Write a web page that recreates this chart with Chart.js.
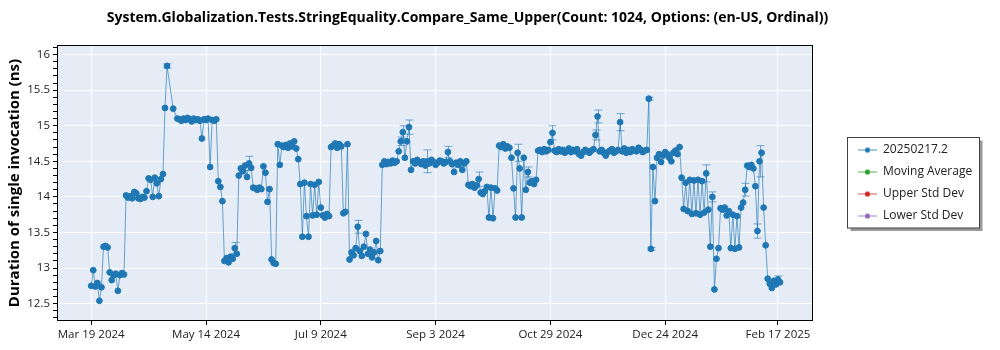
<!DOCTYPE html>
<html>
<head>
<meta charset="utf-8">
<script src="https://cdn.jsdelivr.net/npm/chart.js@4.4.1/dist/chart.umd.min.js"></script>
<style>
  html, body { margin: 0; padding: 0; background: #fff; }
</style>
</head>
<body>
<canvas id="benchmark-chart" width="1000" height="350"></canvas>
<script>

var chartTitle = 'System.Globalization.Tests.StringEquality.Compare_Same_Upper(Count: 1024, Options: (en-US, Ordinal))';
var axisTitle = 'Duration of single invocation (ns)';

var seriesNames = ['20250217.2', 'Moving Average', 'Upper Std Dev', 'Lower Std Dev'];
var seriesColours = ['#1f77b4', '#2ca02c', '#d62728', '#9467bd'];

// one run per day, starting on this date (null = no run that day)
var startDate = '2024-03-19';
var runValues = [
	12.75, 12.97, 12.74, 12.79, 12.54, 12.73, 13.30, 13.31, 13.29, 12.94,
	12.83, 12.90, 12.92, 12.68, 12.90, 12.93, 12.91, 14.02, 13.99, 14.01,
	13.98, 14.07, 14.05, 13.98, 13.97, 14.00, 13.99, 14.08, 14.26, 14.24,
	14.00, 14.27, 14.19, 14.01, 14.25, 14.32, 15.25, 15.84, null, null,
	15.24, null, 15.10, 15.09, 15.07, 15.10, 15.08, 15.11, 15.09, 15.06,
	15.10, 15.08, 15.09, 15.07, 14.82, 15.09, 15.08, 15.10, 14.42, 15.08,
	15.07, 15.09, 14.22, 14.14, 13.94, 13.10, 13.14, 13.08, 13.16, 13.13,
	13.28, 13.20, 14.30, 14.40, 14.36, 14.44, 14.28, 14.47, 14.41, 14.13,
	14.12, 14.10, 14.13, 14.11, 14.43, 14.34, 13.93, 14.11, 13.12, 13.07,
	13.06, 14.74, 14.45, 14.72, 14.70, 14.73, 14.69, 14.75, 14.71, 14.78,
	14.68, 14.53, 14.18, 13.44, 14.20, 13.73, 13.44, 14.18, 13.74, 14.17,
	13.75, 14.21, 13.85, 13.74, 13.71, 13.76, 13.73, 14.70, 14.72, 14.75,
	14.69, 14.74, 14.71, 13.77, 13.79, 14.74, 13.12, 13.22, 13.18, 13.28,
	13.58, 13.24, 13.17, 13.30, 13.48, 13.20, 13.26, 13.15, 13.22, 13.38,
	13.11, 13.24, 14.45, 14.50, 14.46, 14.49, 14.47, 14.51, 14.48, 14.50,
	14.64, 14.78, 14.91, 14.55, 14.78, 14.98, 14.38, 14.50, 14.47, 14.52,
	14.49, 14.46, 14.50, 14.44, 14.50, 14.47, 14.52, 14.49, 14.45, 14.48,
	14.51, 14.50, 14.47, 14.49, 14.63, 14.50, 14.46, 14.35, 14.48, 14.45,
	14.50, 14.38, 14.47, 14.50, 14.17, 14.15, 14.18, 14.13, 14.16, 14.25,
	14.06, 14.04, 14.08, 14.14, 13.71, 14.13, 13.70, 14.12, 14.09, 14.72,
	14.70, 14.74, 14.68, 14.71, 14.69, 14.55, 14.12, 13.71, 14.62, 14.40,
	13.71, 14.55, 14.10, 14.35, 14.20, 14.22, 14.18, 14.24, 14.65, 14.66,
	14.63, 14.67, 14.64, 14.66, 14.77, 14.90, 14.65, 14.63, 14.67, 14.64,
	14.66, 14.62, 14.65, 14.68, 14.63, 14.66, 14.64, 14.67, 14.60, 14.58,
	14.63, 14.66, 14.64, 14.62, 14.65, 14.67, 14.87, 15.13, 14.64, 14.66,
	14.62, 14.58, 14.63, 14.65, 14.67, 14.62, 14.64, 14.66, 15.05, 14.64,
	14.68, 14.62, 14.66, 14.63, 14.67, 14.65, 14.64, 14.69, 14.66, 14.63,
	14.65, 14.66, 15.38, 13.27, 14.42, 13.94, 14.55, 14.60, 14.49, 14.58,
	14.63, 14.60, 14.55, 14.50, 14.62, 14.65, 14.60, 14.70, 14.27, 13.83,
	14.20, 13.80, 14.24, 13.76, 14.23, 13.77, 14.24, 13.75, 14.22, 13.78,
	14.33, 13.82, 13.30, 14.00, 12.70, 13.13, 13.28, 13.84, 13.82, 13.85,
	13.74, 13.80, 13.28, 13.75, 13.27, 13.73, 13.29, 13.85, 13.92, 14.10,
	14.44, 14.42, 14.45, 14.40, 14.15, 13.52, 14.50, 14.62, 13.85, 13.32,
	12.85, 12.78, 12.72, 12.82, 12.77, 12.84, 12.80
];

// runs that show a visible std dev bar (index into runValues) and its half size
var errorDays  = [37, 70, 77, 130, 151, 152, 155, 164, 174, 189, 208, 213, 225, 246, 247, 258, 272, 273, 300, 303, 319, 325, 326, 335];
var errorSizes = [0.03, 0.08, 0.10, 0.09, 0.06, 0.09, 0.10, 0.16, 0.08, 0.10, 0.12, 0.07, 0.10, 0.07, 0.09, 0.12, 0.02, 0.02, 0.12, 0.07, 0.09, 0.10, 0.22, 0.05];

var tickDates  = ['2024-03-19', '2024-05-14', '2024-07-09', '2024-09-03', '2024-10-29', '2024-12-24', '2025-02-17'];
var tickLabels = ['Mar 19 2024', 'May 14 2024', 'Jul 9 2024', 'Sep 3 2024', 'Oct 29 2024', 'Dec 24 2024', 'Feb 17 2025'];

var FONT = '"Open Sans", "Noto Sans", sans-serif';
var DAY = 86400000;
Chart.defaults.font.family = FONT;

function dayOf(s) {
	return (Date.parse(s) - Date.parse(startDate)) / DAY;
}

function isMajor(v) {
	return Math.abs(v * 2 - Math.round(v * 2)) < 1e-6;
}

function legendSymbol(colour) {
	var c = document.createElement('canvas');
	c.width = 19;
	c.height = 7;
	var g = c.getContext('2d');
	g.strokeStyle = colour;
	g.globalAlpha = 0.8;
	g.lineWidth = 1;
	g.beginPath();
	g.moveTo(0, 3.5);
	g.lineTo(19, 3.5);
	g.stroke();
	g.globalAlpha = 1;
	g.fillStyle = colour;
	g.beginPath();
	g.arc(9.5, 3.5, 2.6, 0, Math.PI * 2);
	g.fill();
	return c;
}

// background, legend box, frame, error bars and the title
var decorations = {
	id: 'decorations',
	beforeLayout: function(chart) {
		var lg = chart.legend;
		if (lg && !lg._fixedWidth) {
			var fit = lg.fit;
			lg.fit = function() { fit.call(this); this.width = 152; };
			lg._fixedWidth = true;
		}
	},
	beforeDraw: function(chart) {
		var ctx = chart.ctx, a = chart.chartArea, lg = chart.legend;
		ctx.save();
		ctx.fillStyle = '#e5ecf6';
		ctx.fillRect(a.left, a.top, a.right - a.left, a.bottom - a.top);

		var boxes = lg.legendHitBoxes;
		var fx = Math.round(lg.left) - 0.5;
		var fy = Math.round(boxes[0].top - 7) + 0.5;
		var fw = 132;
		var fh = Math.round(boxes[boxes.length - 1].top + boxes[boxes.length - 1].height + 6) - fy;
		ctx.fillStyle = '#9a9a9a';
		ctx.fillRect(fx + 3, fy + 3, fw, fh);
		ctx.fillStyle = '#ffffff';
		ctx.fillRect(fx, fy, fw, fh);
		ctx.strokeStyle = '#404040';
		ctx.lineWidth = 1;
		ctx.strokeRect(fx, fy, fw, fh);
		ctx.restore();
	},
	beforeDatasetsDraw: function(chart) {
		var ctx = chart.ctx, x = chart.scales.x, y = chart.scales.y;
		ctx.save();
		ctx.strokeStyle = 'rgba(31,119,180,0.6)';
		ctx.lineWidth = 1;
		errorDays.forEach(function(d, i) {
			var v = runValues[d];
			if (v === null) return;
			var px = Math.round(x.getPixelForValue(d)) + 0.5;
			var top = y.getPixelForValue(v + errorSizes[i]);
			var bot = y.getPixelForValue(v - errorSizes[i]);
			ctx.beginPath();
			ctx.moveTo(px, top);
			ctx.lineTo(px, bot);
			ctx.moveTo(px - 4, top);
			ctx.lineTo(px + 4, top);
			ctx.moveTo(px - 4, bot);
			ctx.lineTo(px + 4, bot);
			ctx.stroke();
		});
		ctx.restore();
	},
	afterDraw: function(chart) {
		var ctx = chart.ctx, a = chart.chartArea;
		ctx.save();
		ctx.strokeStyle = '#000';
		ctx.lineWidth = 1;
		ctx.strokeRect(Math.round(a.left) - 0.5, Math.round(a.top) - 0.5, Math.round(a.right - a.left) + 1, Math.round(a.bottom - a.top) + 1);
		ctx.fillStyle = '#000';
		ctx.font = 'bold 14px ' + FONT;
		ctx.textAlign = 'center';
		ctx.textBaseline = 'middle';
		ctx.fillText(chartTitle, 467.5, 18);
		ctx.restore();
	}
};

var datasets = [];
seriesNames.forEach(function(name, i) {
	var colour = seriesColours[i];
	datasets.push({
		label: name,
		data: i === 0 ? runValues.map(function(v, d) { return {x: d, y: v}; }) : [],
		borderColor: i === 0 ? 'rgba(31,119,180,0.65)' : colour,
		backgroundColor: colour,
		borderWidth: 1,
		pointRadius: 2.9,
		pointBorderWidth: 1,
		pointBackgroundColor: colour,
		pointBorderColor: colour,
		lineTension: 0,
		spanGaps: true,
		fill: false
	});
});

new Chart(document.getElementById('benchmark-chart'), {
	type: 'line',
	data: { datasets: datasets },
	options: {
		responsive: false,
		animation: false,
		events: [],
		layout: { padding: { top: 46, right: 0, bottom: 0, left: 0 } },
		scales: {
			x: {
				type: 'linear',
				min: -16.2,
				max: 351.6,
				afterBuildTicks: function(scale) {
					scale.ticks = tickDates.map(function(d) { return {value: dayOf(d)}; });
				},
				afterFit: function(scale) { scale.height = 30; },
				ticks: {
					autoSkip: false,
					maxRotation: 0,
					padding: 3,
					color: '#222',
					font: { size: 11.5 },
					callback: function(value, index) { return tickLabels[index]; }
				},
				grid: { color: '#ffffff', lineWidth: 1, tickColor: '#000', tickLength: 5 },
				border: { display: false }
			},
			y: {
				type: 'linear',
				min: 12.27,
				max: 16.12,
				afterBuildTicks: function(scale) {
					var t = [];
					for (var k = 123; k <= 161; k++) t.push({value: k / 10});
					scale.ticks = t;
				},
				afterFit: function(scale) { scale.width = 58; },
				ticks: {
					autoSkip: false,
					padding: 3,
					color: '#222',
					font: { size: 11.5 },
					callback: function(value) { return isMajor(value) ? String(value) : ''; }
				},
				grid: {
					color: function(c) { return c.tick && isMajor(c.tick.value) ? '#ffffff' : 'rgba(0,0,0,0)'; },
					lineWidth: 1,
					tickColor: '#000',
					tickLength: 5
				},
				border: { display: false },
				title: {
					display: true,
					text: axisTitle,
					color: '#000',
					font: { size: 15, weight: 'bold' },
					padding: { top: 6, bottom: 0 }
				}
			},
			gap: {
				type: 'linear',
				position: 'right',
				display: true,
				afterFit: function(scale) { scale.width = 36; },
				ticks: { display: false },
				grid: { display: false },
				border: { display: false }
			}
		},
		plugins: {
			title: { display: false },
			tooltip: { enabled: false },
			legend: {
				position: 'right',
				fullSize: false,
				labels: {
					usePointStyle: true,
					pointStyleWidth: 19,
					padding: 10,
					color: '#222',
					font: { size: 12 },
					generateLabels: function(chart) {
						return chart.data.datasets.map(function(ds, i) {
							return {
								text: ds.label,
								pointStyle: legendSymbol(seriesColours[i]),
								fillStyle: seriesColours[i],
								strokeStyle: seriesColours[i],
								lineWidth: 0,
								fontColor: '#222',
								hidden: false,
								datasetIndex: i
							};
						});
					}
				}
			}
		}
	},
	plugins: [decorations]
});

</script>
</body>
</html>
